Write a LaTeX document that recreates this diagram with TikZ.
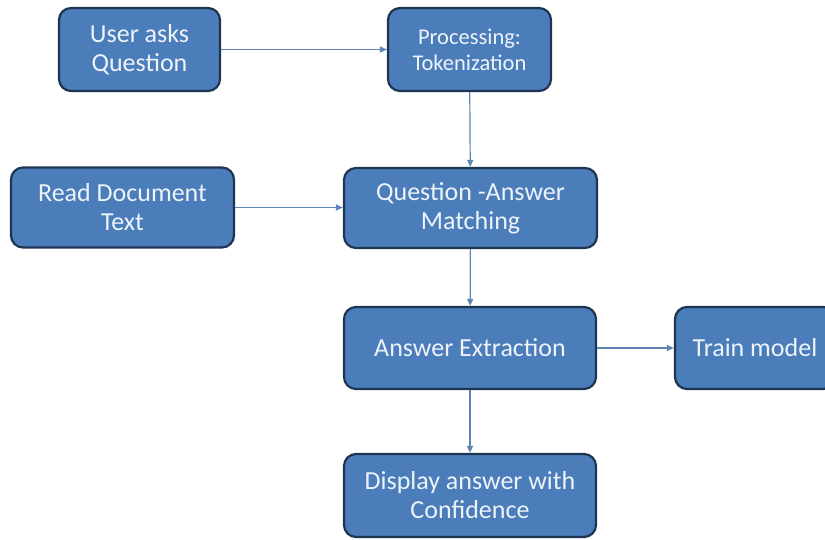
\documentclass[tikz,border=0pt]{standalone}
\usepackage{fontspec}
\setmainfont{Carlito}
\usetikzlibrary{arrows.meta}
\definecolor{boxblue}{HTML}{4A7DBA}
\definecolor{boxedge}{HTML}{1E3552}
\definecolor{linkblue}{HTML}{5F86B3}
\definecolor{txtwhite}{HTML}{EEF3FA}
\tikzset{
  stepbox/.style={draw=boxedge, line width=2.2pt, fill=boxblue, rounded corners=12pt,
    text=txtwhite, align=center, font=\fontsize{26}{29}\selectfont, inner sep=0pt},
  link/.style={draw=linkblue, line width=1.2pt, -{Triangle[length=7pt,width=6pt]}}
}
\begin{document}
\begin{tikzpicture}[x=1pt,y=-1pt]
        \useasboundingbox (0,0) rectangle (825,539);
        \fill[white] (0,0) rectangle (825,539);

        % top row
        \node[stepbox, minimum width=161pt, minimum height=83pt] (ask) at (139.5,49.5) {User asks\\Question};
        \node[stepbox, minimum width=163pt, minimum height=83pt, font=\fontsize{22.5}{26}\selectfont] (tok) at (469.5,49.5) {Processing:\\Tokenization};
        % middle row
        \node[stepbox, minimum width=223pt, minimum height=80pt] (read) at (122.5,207.5) {Read Document\\Text};
        \node[stepbox, minimum width=253pt, minimum height=80pt] (match) at (470.5,208) {Question -Answer\\Matching};
        % extraction and output
        \node[stepbox, minimum width=252pt, minimum height=82pt] (extract) at (470,348) {Answer Extraction};
        \node[stepbox, minimum width=160pt, minimum height=82pt] (train) at (755,348) {Train model};
        \node[stepbox, minimum width=252pt, minimum height=83pt] (display) at (470,495.5) {Display answer with\\Confidence};

        % connectors
        \draw[link] (ask) -- (tok);
        \draw[link] (tok) -- (match);
        \draw[link] (read) -- (read -| match.west);
        \draw[link] (match) -- (extract);
        \draw[link] (extract) -- (train);
        \draw[link] (extract) -- (display);
\end{tikzpicture}
\end{document}
